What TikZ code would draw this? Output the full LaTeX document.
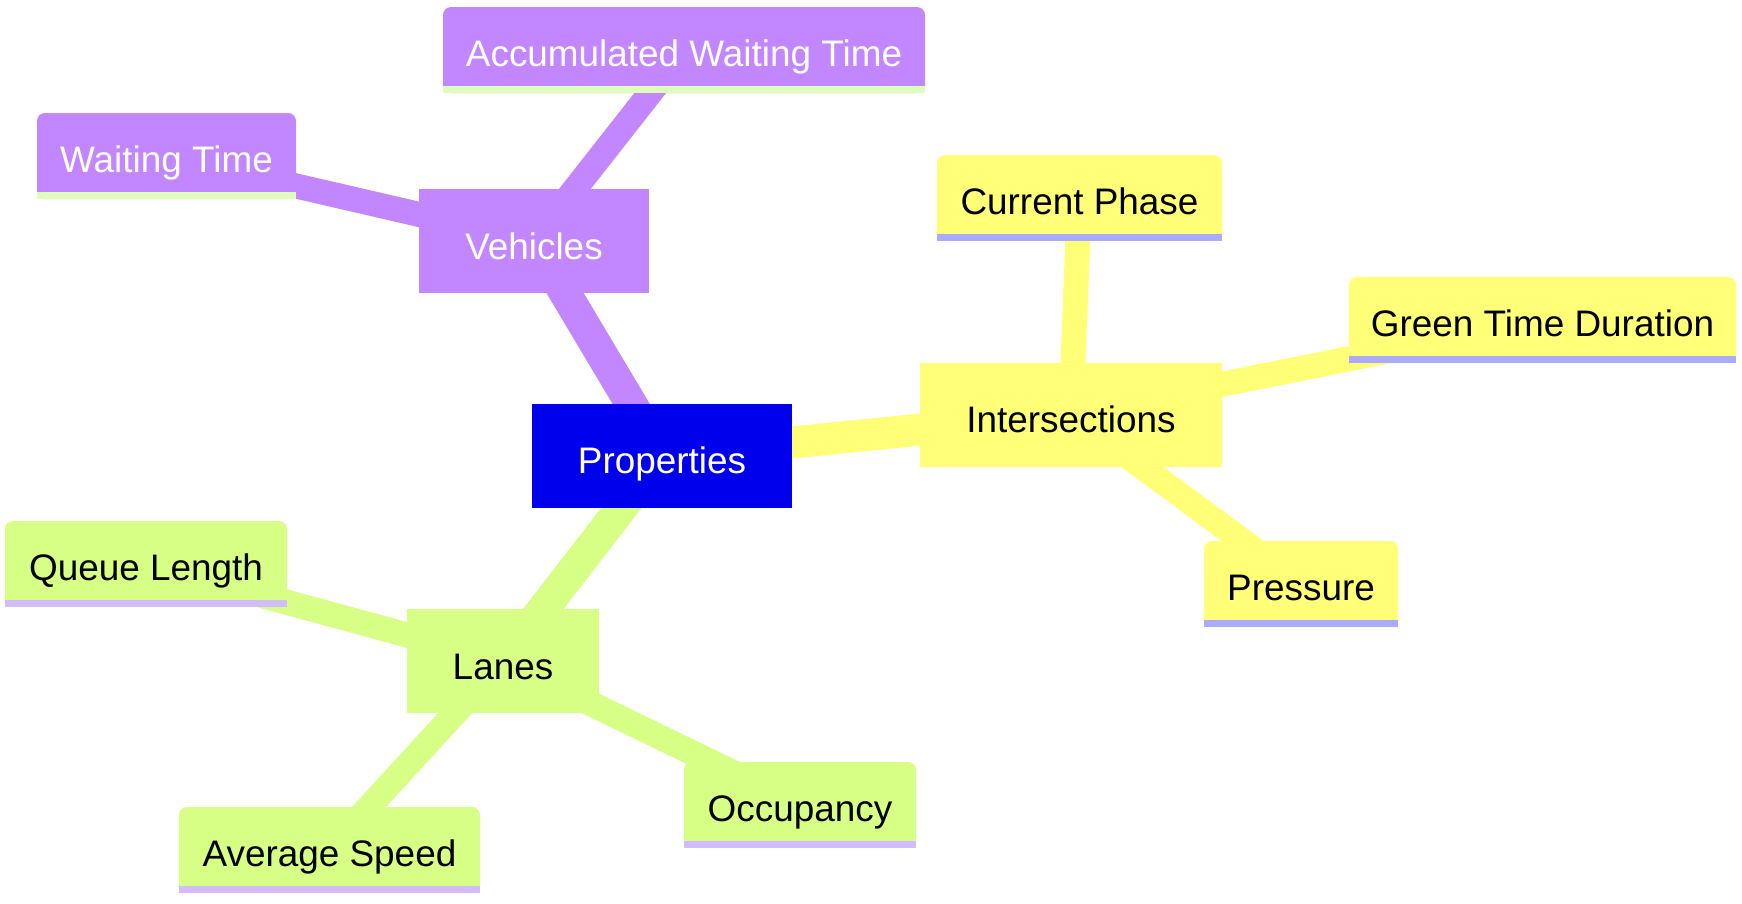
\documentclass[tikz,border=0pt]{standalone}
\usepackage{fontspec}
\setmainfont{Liberation Sans}
\pgfdeclarelayer{background}
\pgfsetlayers{background,main}
\definecolor{rootblue}{RGB}{0,0,236}
\definecolor{purp}{RGB}{194,134,255}
\definecolor{yell}{RGB}{255,255,120}
\definecolor{grn}{RGB}{215,255,134}
\definecolor{purpbar}{RGB}{221,255,187}
\definecolor{yellbar}{RGB}{170,170,255}
\definecolor{grnbar}{RGB}{210,187,255}
\tikzset{
  mmfont/.style={font=\fontsize{36.9pt}{44pt}\selectfont},
  section/.style={mmfont, shape=rectangle, inner sep=0pt, text height=70pt, text depth=34pt, align=center},
  leafbox/.style={mmfont, shape=rectangle, inner sep=0pt, rounded corners=8pt, text height=59pt, text depth=27pt, align=center},
  rootedge/.style={line width=32pt},
  leafedge/.style={line width=25pt},
}
\newcommand\leafbar[3]{%
  \fill[#2] ([yshift=6.5pt]#1.south west) rectangle ([yshift=16pt]#1.south east);
  \fill[#3] (#1.south west) rectangle ([yshift=7pt]#1.south east);
}
\begin{document}
\begin{tikzpicture}[x=1pt,y=-1pt]
\useasboundingbox (0,0) rectangle (1742,903);
% section nodes
\node[section, fill=rootblue, text=white, minimum width=260pt] (prop) at (662,455.5) {Properties};
\node[section, fill=purp, text=white, minimum width=230pt] (veh) at (534,241) {Vehicles};
\node[section, fill=yell, text=black, minimum width=302pt] (inter) at (1071,414.5) {Intersections};
\node[section, fill=grn, text=black, minimum width=192pt] (lanes) at (503,661) {Lanes};
% leaves
\node[leafbox, fill=purp, text=white, minimum width=482pt] (acc) at (684,50) {Accumulated Waiting Time};
\node[leafbox, fill=purp, text=white, minimum width=259pt] (wait) at (166.5,156) {Waiting Time};
\node[leafbox, fill=yell, text=black, minimum width=285pt] (cur) at (1079.5,198) {Current Phase};
\node[leafbox, fill=yell, text=black, minimum width=387pt] (green) at (1542.5,320) {Green Time Duration};
\node[leafbox, fill=yell, text=black, minimum width=194pt] (press) at (1301,584) {Pressure};
\node[leafbox, fill=grn, text=black, minimum width=282pt] (queue) at (146,564) {Queue Length};
\node[leafbox, fill=grn, text=black, minimum width=301pt] (avg) at (329.5,850) {Average Speed};
\node[leafbox, fill=grn, text=black, minimum width=232pt] (occ) at (800,805) {Occupancy};
\leafbar{acc}{purp}{purpbar}
\leafbar{wait}{purp}{purpbar}
\leafbar{cur}{yell}{yellbar}
\leafbar{green}{yell}{yellbar}
\leafbar{press}{yell}{yellbar}
\leafbar{queue}{grn}{grnbar}
\leafbar{avg}{grn}{grnbar}
\leafbar{occ}{grn}{grnbar}
% edges
\begin{pgfonlayer}{background}
\draw[rootedge, purp] (prop.center) -- (veh.center);
\draw[rootedge, yell] (prop.center) -- (inter.center);
\draw[rootedge, grn] (prop.center) -- (lanes.center);
\draw[leafedge, purp] (veh.center) -- (acc.center);
\draw[leafedge, purp] (veh.center) -- (wait.center);
\draw[leafedge, yell] (inter.center) -- (cur.center);
\draw[leafedge, yell] (inter.center) -- (green.center);
\draw[leafedge, yell] (inter.center) -- (press.center);
\draw[leafedge, grn] (lanes.center) -- (queue.center);
\draw[leafedge, grn] (lanes.center) -- (avg.center);
\draw[leafedge, grn] (lanes.center) -- (occ.center);
\end{pgfonlayer}
\end{tikzpicture}
\end{document}
